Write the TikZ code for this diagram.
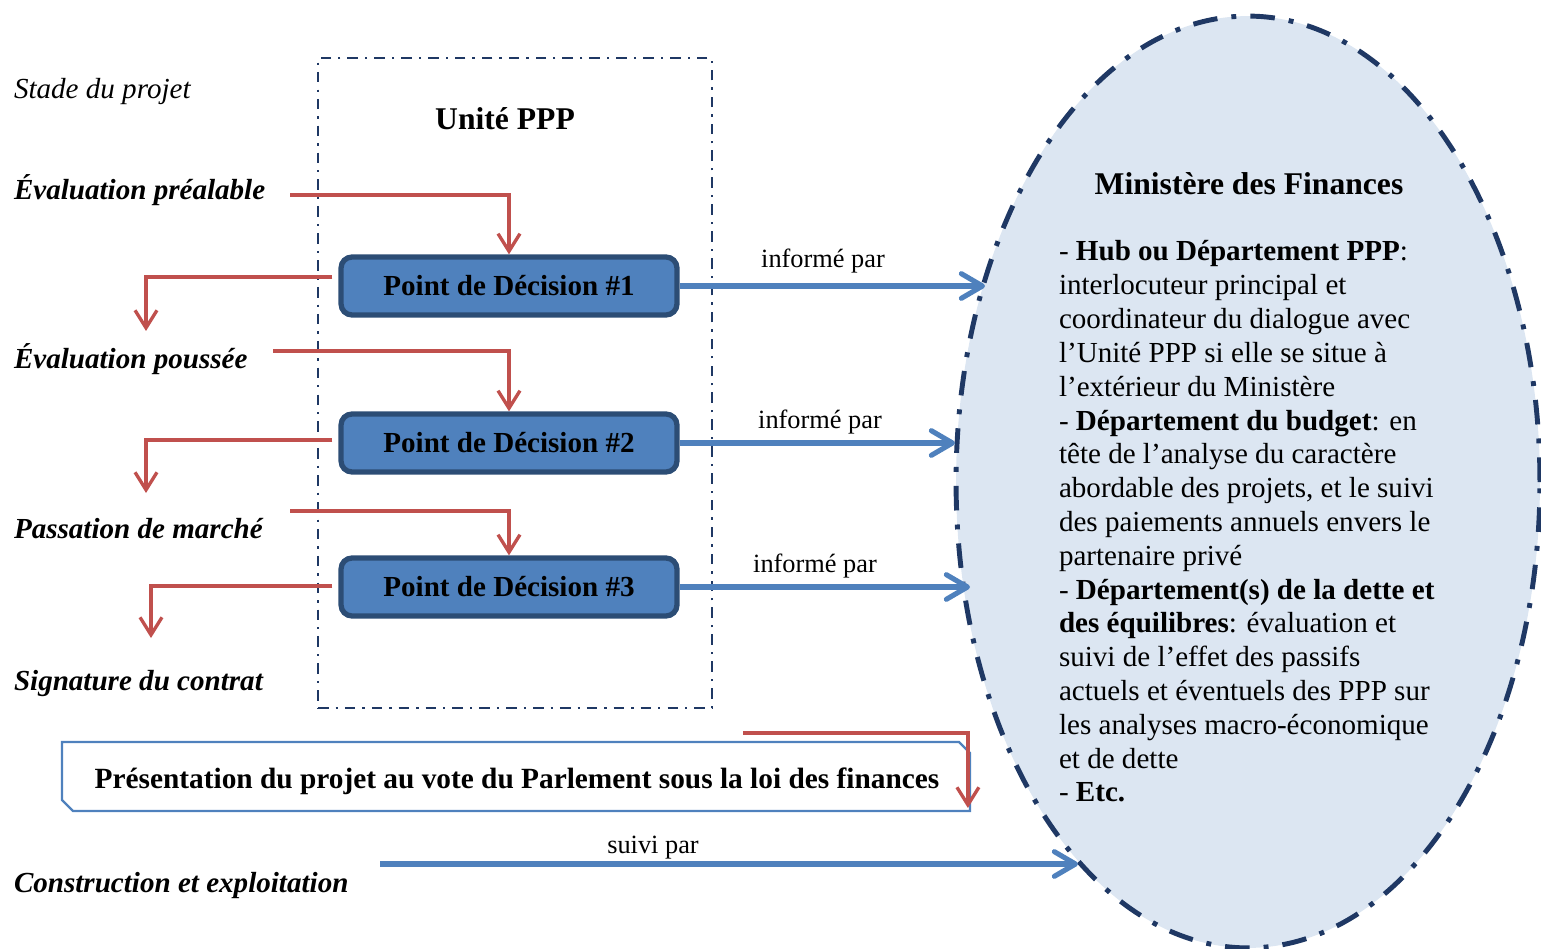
\documentclass[tikz,border=0pt]{standalone}
\usepackage{fontspec}
\setmainfont{Liberation Serif}
\usetikzlibrary{arrows.meta,calc,shapes.geometric}
\definecolor{pblue}{HTML}{4F81BD}
\definecolor{pred}{HTML}{C0504D}
\definecolor{pnavy}{HTML}{1F3864}
\definecolor{pborder}{HTML}{2C4D75}
\definecolor{pfill}{HTML}{DCE6F2}
\tikzset{
  body/.style={font=\fontsize{16.55pt}{19.16pt}\selectfont, inner sep=0pt, outer sep=0pt},
  stage/.style={inner sep=0pt, outer sep=0pt, anchor=base west, font=\fontsize{16.55pt}{19.16pt}\selectfont\bfseries\itshape},
  stagehead/.style={inner sep=0pt, outer sep=0pt, anchor=base west, font=\fontsize{16.55pt}{19.16pt}\selectfont\itshape},
  titletext/.style={inner sep=0pt, outer sep=0pt, anchor=base, font=\fontsize{18pt}{21pt}\selectfont\bfseries},
  lbl/.style={inner sep=0pt, outer sep=0pt, anchor=base, font=\fontsize{15pt}{18pt}\selectfont},
  redarr/.style={draw=pred, line width=1.9pt, -{Straight Barb[length=10pt,width=12.5pt]}},
  bluearr/.style={draw=pblue, line width=2.9pt, -{Straight Barb[length=12pt,width=14pt,round]}},
  decision/.style={draw=pborder, line width=3pt, fill=pblue, rounded corners=0.22cm,
    minimum width=6.72cm, minimum height=1.16cm, inner sep=0pt,
    font=\fontsize{16.55pt}{19pt}\selectfont\bfseries},
  unitbox/.style={draw=pnavy, line width=1.5pt, dash pattern=on 6pt off 4pt on 1.3pt off 4pt,
    minimum width=7.88cm, minimum height=13cm, inner sep=0pt},
  mofshape/.style={ellipse, draw=pnavy, fill=pfill, line width=2.8pt,
    dash pattern=on 14pt off 8pt on 2.8pt off 8pt,
    minimum width=11.68cm, minimum height=18.64cm, inner sep=0pt},
  presline/.style={draw=pblue, line width=1.3pt}
}
\begin{document}
\begin{tikzpicture}[x=0.02cm, y=-0.02cm]
\useasboundingbox (0,0) rectangle (1541,949);

% Ministry ellipse
\node[mofshape] (mof) at (1248,482) {};
\node[titletext] (moft) at (1249,195) {Ministère des Finances};
\foreach \t [count=\i from 0] in {
 {- \textbf{Hub ou Département PPP}:},
 {interlocuteur principal et},
 {coordinateur du dialogue avec},
 {l’Unité PPP si elle se situe à},
 {l’extérieur du Ministère},
 {- \textbf{Département du budget}: en},
 {tête de l’analyse du caractère},
 {abordable des projets, et le suivi},
 {des paiements annuels envers le},
 {partenaire privé},
 {- \textbf{Département(s) de la dette et}},
 {\textbf{des équilibres}: évaluation et},
 {suivi de l’effet des passifs},
 {actuels et éventuels des PPP sur},
 {les analyses macro-économique},
 {et de dette},
 {- \textbf{Etc.}}
} \node[body, anchor=base west] (m\i) at (1059,{261+33.8*\i}) {\t};

% Unite PPP box
\node[unitbox] (unite) at (515,383) {};
\node[titletext] (ut) at (505,130) {Unité PPP};

% Stage labels
\node[stagehead] (s0) at (14,99) {Stade du projet};
\node[stage] (s1) at (14,200) {Évaluation préalable};
\node[stage] (s2) at (14,369) {Évaluation poussée};
\node[stage] (s3) at (14,538) {Passation de marché};
\node[stage] (s4) at (14,690) {Signature du contrat};
\node[stage] (s5) at (14,892) {Construction et exploitation};

% Decision points
\node[decision] (pd1) at (509,286) {Point de Décision \#1};
\node[decision] (pd2) at (509,443) {Point de Décision \#2};
\node[decision] (pd3) at (509,587) {Point de Décision \#3};

% Red flow
\coordinate (r1s) at (290,195);
\coordinate (r3s) at (273,351);
\coordinate (r5s) at (290,511);
\coordinate (t2) at (146,331);
\coordinate (t4) at (146,493);
\coordinate (t6) at (151,638);
\draw[redarr] (r1s) -| (pd1.north);
\draw[redarr] ($(pd1.west)+(-6,-9)$) -| (t2);
\draw[redarr] (r3s) -| (pd2.north);
\draw[redarr] ($(pd2.west)+(-6,-3)$) -| (t4);
\draw[redarr] (r5s) -| (pd3.north);
\draw[redarr] ($(pd3.west)+(-6,-1)$) -| (t6);

% Blue arrows
\coordinate (b1) at (985,286);
\coordinate (b2) at (955,443);
\coordinate (b3) at (970,587);
\draw[bluearr] (pd1.east) -- (b1);
\draw[bluearr] (pd2.east) -- (b2);
\draw[bluearr] (pd3.east) -- (b3);
\node[lbl] (i1) at (823,268) {informé par};
\node[lbl] (i2) at (820,428) {informé par};
\node[lbl] (i3) at (815,572) {informé par};

% Presentation box
\node[inner sep=0pt, outer sep=0pt, minimum width=18.16cm, minimum height=1.38cm] (pres) at (516,776.5) {};
\draw[presline] (pres.north west) -- ($(pres.north east)+(-11,0)$) -- ($(pres.north east)+(0,11)$)
  -- (pres.south east) -- ($(pres.south west)+(11,0)$) -- ($(pres.south west)+(0,-11)$) -- cycle;
\node[inner sep=0pt, outer sep=0pt, anchor=base, font=\fontsize{16.7pt}{19pt}\selectfont\bfseries] (prest) at (517,788)
  {Présentation du projet au vote du Parlement sous la loi des finances};
\coordinate (r7s) at (743,733);
\draw[redarr] (r7s) -| ($(pres.south east)+(-2,-3)$);

% Construction arrow
\coordinate (b4s) at (380,864);
\coordinate (b4e) at (1078,864);
\draw[bluearr] (b4s) -- (b4e);
\node[lbl] (sp) at (653,853) {suivi par};
\end{tikzpicture}
\end{document}
